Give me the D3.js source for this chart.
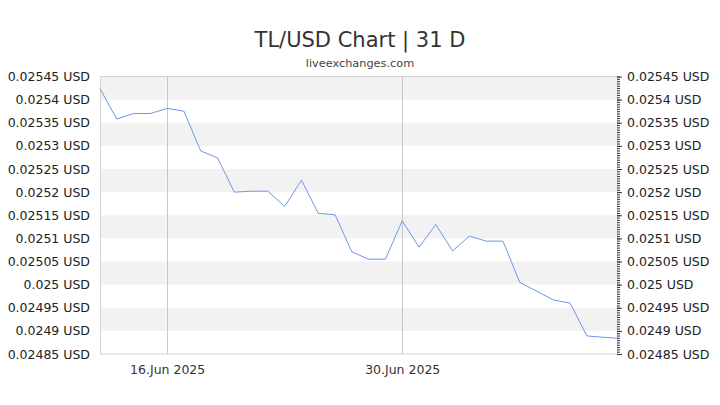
<!DOCTYPE html>
<html>
<head>
<meta charset="utf-8">
<script src="https://cdn.jsdelivr.net/npm/d3@7"></script>
<style>
  body { margin: 0; background: #fff; }
  svg { font-family: "DejaVu Sans", sans-serif; display: block; }
</style>
</head>
<body>
<svg id="chart" width="720" height="405"></svg>
<script>
// daily TL/USD rates
const dates = [
  '2025-06-12', '2025-06-13', '2025-06-14', '2025-06-15', '2025-06-16',
  '2025-06-17', '2025-06-18', '2025-06-19', '2025-06-20', '2025-06-21',
  '2025-06-22', '2025-06-23', '2025-06-24', '2025-06-25', '2025-06-26',
  '2025-06-27', '2025-06-28', '2025-06-29', '2025-06-30', '2025-07-01',
  '2025-07-02', '2025-07-03', '2025-07-04', '2025-07-05', '2025-07-06',
  '2025-07-07', '2025-07-09', '2025-07-10', '2025-07-11', '2025-07-12T19:00'
]
const rates = [
  0.025424, 0.025358, 0.025370, 0.025370, 0.025381,
  0.025375, 0.025289, 0.025274, 0.025200, 0.025202,
  0.025202, 0.025169, 0.025226, 0.025154, 0.025151,
  0.025071, 0.025055, 0.025055, 0.025138, 0.025081,
  0.025130, 0.025073, 0.025105, 0.025094, 0.025094,
  0.025005, 0.024967, 0.024960, 0.024889, 0.024884
]
const yTicks = [0.02485, 0.0249, 0.02495, 0.025, 0.02505, 0.0251, 0.02515,
  0.0252, 0.02525, 0.0253, 0.02535, 0.0254, 0.02545]
const xTicks = ['2025-06-16', '2025-06-30']

const title = 'TL/USD Chart | 31 D'
const subtitle = 'liveexchanges.com'

const parse = d => new Date(d.length > 10 ? d : d + 'T00:00')
const data = dates.map((d, i) => ({ date: parse(d), value: rates[i] }))

const svg = d3.select('#chart')
const m = { left: 100, right: 617, top: 76.5, bottom: 354 }

const x = d3.scaleTime()
  .domain([data[0].date, data[data.length - 1].date])
  .range([m.left, m.right])
const y = d3.scaleLinear()
  .domain([0.02485, 0.02545])
  .range([m.bottom, m.top])

// alternating bands
const bands = d3.range(0, yTicks.length - 1).filter(i => i % 2 === 1)
svg.append('g').selectAll('rect')
  .data(bands)
  .join('rect')
  .attr('x', m.left)
  .attr('width', m.right - m.left)
  .attr('y', i => y(yTicks[i + 1]))
  .attr('height', i => y(yTicks[i]) - y(yTicks[i + 1]))
  .attr('fill', '#f2f2f2')

// vertical grid lines on the date ticks
svg.append('g').selectAll('line')
  .data(xTicks.map(parse))
  .join('line')
  .attr('x1', d => Math.round(x(d)) + 0.5)
  .attr('x2', d => Math.round(x(d)) + 0.5)
  .attr('y1', m.top)
  .attr('y2', m.bottom)
  .attr('stroke', '#c8c8c8')

// frame
svg.append('rect')
  .attr('x', m.left + 0.5)
  .attr('y', m.top)
  .attr('width', m.right - m.left)
  .attr('height', m.bottom - m.top)
  .attr('fill', 'none')
  .attr('stroke', '#d4d4d4')

const styleText = g => g.selectAll('text')
  .attr('font-size', 12.5)
  .attr('font-family', '"DejaVu Sans", sans-serif')
  .attr('fill', '#222')

// left axis labels
const fmt = v => d3.format('.5~f')(v) + ' USD'
svg.append('g')
  .attr('transform', `translate(${m.left},0)`)
  .call(d3.axisLeft(y).tickValues(yTicks).tickSize(0).tickPadding(10).tickFormat(fmt))
  .call(g => g.select('.domain').remove())
  .call(styleText)

// right axis with minor ticks
const minor = d3.range(0, 121).map(i => 0.02485 + i * 0.000005)
svg.append('g')
  .attr('transform', `translate(${m.right},0)`)
  .call(d3.axisRight(y).tickValues(minor).tickSize(3).tickFormat(''))
  .call(g => g.select('.domain').remove())
  .call(g => g.selectAll('line').attr('stroke', '#333'))
svg.append('g')
  .attr('transform', `translate(${m.right},0)`)
  .call(d3.axisRight(y).tickValues(yTicks).tickSize(5).tickPadding(5).tickFormat(fmt))
  .call(g => g.select('.domain').remove())
  .call(g => g.selectAll('line').attr('stroke', '#333'))
  .call(styleText)

// bottom axis labels
svg.append('g')
  .attr('transform', `translate(0,${m.bottom})`)
  .call(d3.axisBottom(x)
    .tickValues(xTicks.map(parse))
    .tickSize(0)
    .tickPadding(11)
    .tickFormat(d3.timeFormat('%-d.%b %Y')))
  .call(g => g.select('.domain').remove())
  .call(styleText)
  .call(g => g.selectAll('text').attr('fill', '#333'))

// rate line
svg.append('path')
  .datum(data)
  .attr('fill', 'none')
  .attr('stroke', '#6f96e6')
  .attr('stroke-width', 1)
  .attr('d', d3.line().x(d => x(d.date)).y(d => y(d.value)))

// titles
svg.append('text')
  .attr('x', 360)
  .attr('y', 47)
  .attr('text-anchor', 'middle')
  .attr('font-size', 21)
  .attr('fill', '#333')
  .text(title)
svg.append('text')
  .attr('x', 360)
  .attr('y', 67)
  .attr('text-anchor', 'middle')
  .attr('font-size', 11.3)
  .attr('fill', '#444')
  .text(subtitle)
</script>
</body>
</html>
